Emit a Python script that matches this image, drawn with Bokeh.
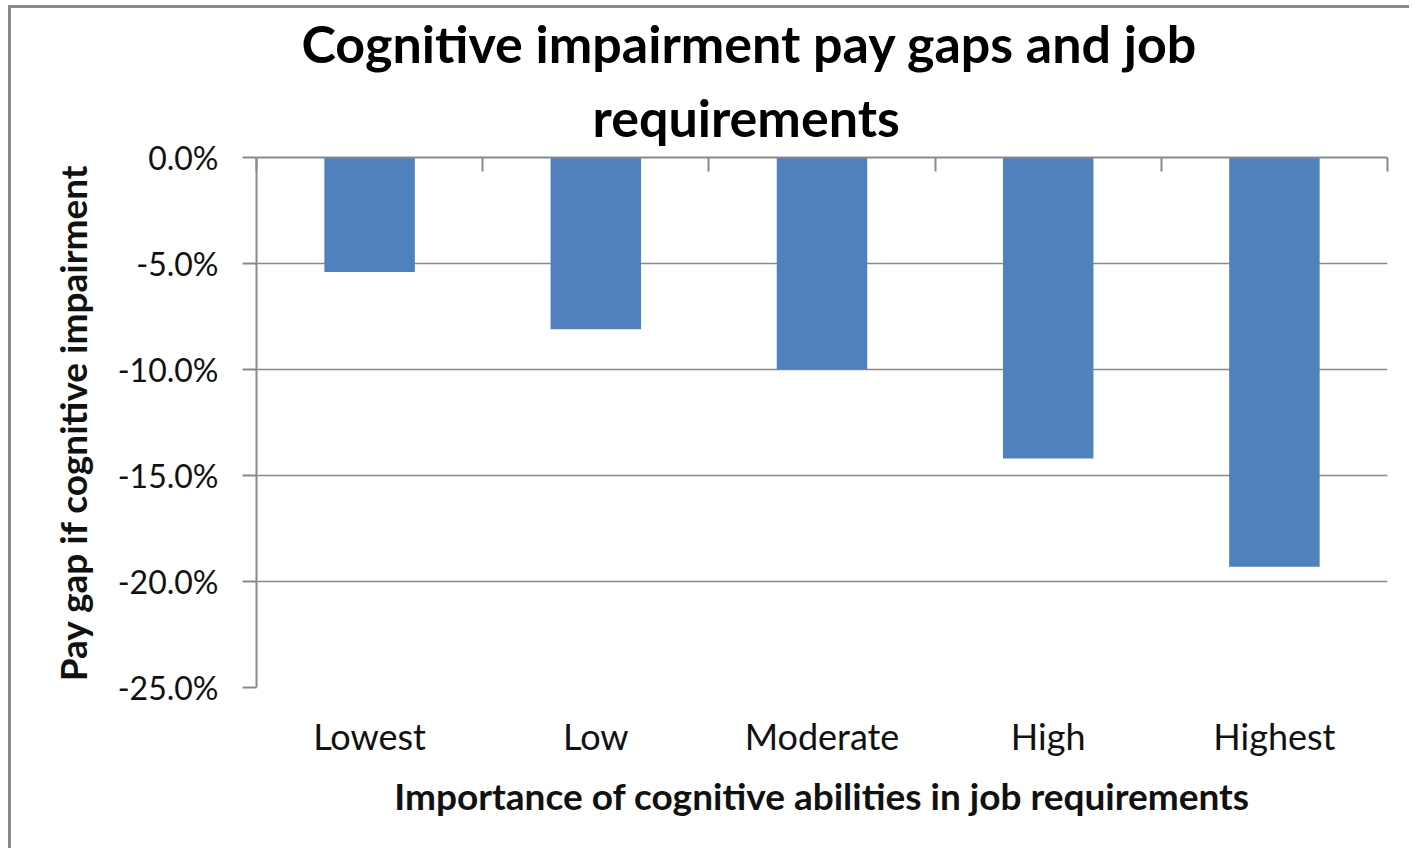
from bokeh.plotting import figure
from bokeh.models import (Range1d, LinearAxis, FixedTicker,
                          NumeralTickFormatter, Title)
from bokeh.embed import file_html
from bokeh.resources import INLINE

# ---- data ----
categories = ["Lowest", "Low", "Moderate", "High", "Highest"]
pay_gap = [-0.054, -0.081, -0.100, -0.142, -0.193]
y_ticks = [0.0, -0.05, -0.10, -0.15, -0.20, -0.25]
title_lines = ["Cognitive impairment pay gaps and job", "requirements"]
title_offsets = [45, 336]
title_standoffs = [0, 20]
x_label = "Importance of cognitive abilities in job requirements"
y_label = "Pay gap if cognitive impairment"

FONT = "Lato"
GRID = "#8a8a8a"
TEXT = "#111111"

n = len(categories)
centers = [i + 0.5 for i in range(n)]
bounds = list(range(n + 1))

p = figure(
    x_range=Range1d(0, n),
    y_range=Range1d(-0.25, 0.0),
    width=1401, height=843,
    min_border_left=245, min_border_right=25,
    min_border_top=149, min_border_bottom=164,
    output_backend="svg", toolbar_location=None, title=None,
)
p.styles = {"margin-left": "8px", "margin-top": "5px",
            "border-top": "3px solid #888888", "border-left": "3px solid #888888"}
p.outline_line_color = None
p.background_fill_color = "white"
p.border_fill_color = "white"

p.vbar(x=centers, top=pay_gap, bottom=0, width=0.4,
       fill_color="#4F81BD", line_color=None)

# y axis
yax = p.yaxis[0]
yax.ticker = FixedTicker(ticks=y_ticks)
yax.formatter = NumeralTickFormatter(format="0.0%")
yax.axis_line_color = GRID
yax.axis_line_width = 2
yax.major_tick_line_color = GRID
yax.major_tick_line_width = 2
yax.major_tick_out = 14
yax.major_tick_in = 0
yax.minor_tick_line_color = None
yax.major_label_standoff = 24
yax.major_label_text_font = FONT
yax.major_label_text_font_size = "32px"
yax.major_label_text_color = TEXT
yax.axis_label = y_label
yax.axis_label_text_font = FONT
yax.axis_label_text_font_size = "37px"
yax.axis_label_text_font_style = "bold"
yax.axis_label_text_color = TEXT
yax.axis_label_standoff = 20

p.ygrid.ticker = FixedTicker(ticks=y_ticks)
p.ygrid.grid_line_color = GRID
p.ygrid.grid_line_width = 1.5
p.xgrid.grid_line_color = None

# bottom category axis
xax = p.xaxis[0]
xax.ticker = FixedTicker(ticks=centers)
xax.major_label_overrides = {c: lab for c, lab in zip(centers, categories)}
xax.axis_line_color = None
xax.major_tick_line_color = None
xax.minor_tick_line_color = None
xax.major_label_standoff = 20
xax.major_label_text_font = FONT
xax.major_label_text_font_size = "36px"
xax.major_label_text_color = TEXT
xax.axis_label = x_label
xax.axis_label_text_font = FONT
xax.axis_label_text_font_size = "37px"
xax.axis_label_text_font_style = "bold"
xax.axis_label_text_color = TEXT
xax.axis_label_standoff = 12

# top axis at zero with ticks at category boundaries (no labels)
top = LinearAxis(ticker=FixedTicker(ticks=bounds))
top.major_label_overrides = {b: "" for b in bounds}
top.axis_line_color = GRID
top.axis_line_width = 2
top.major_tick_line_color = GRID
top.major_tick_line_width = 2
top.major_tick_in = 14
top.major_tick_out = 0
top.minor_tick_line_color = None
p.add_layout(top, "above")

# title: two lines, later-added sits farther from the plot
for txt, off, so in reversed(list(zip(title_lines, title_offsets, title_standoffs))):
    p.add_layout(Title(text=txt, align="left", offset=off, text_font=FONT,
                       text_font_size="52px", text_font_style="bold",
                       text_color="#000000", standoff=so), "above")

open("out.html", "w").write(file_html(p, INLINE))
